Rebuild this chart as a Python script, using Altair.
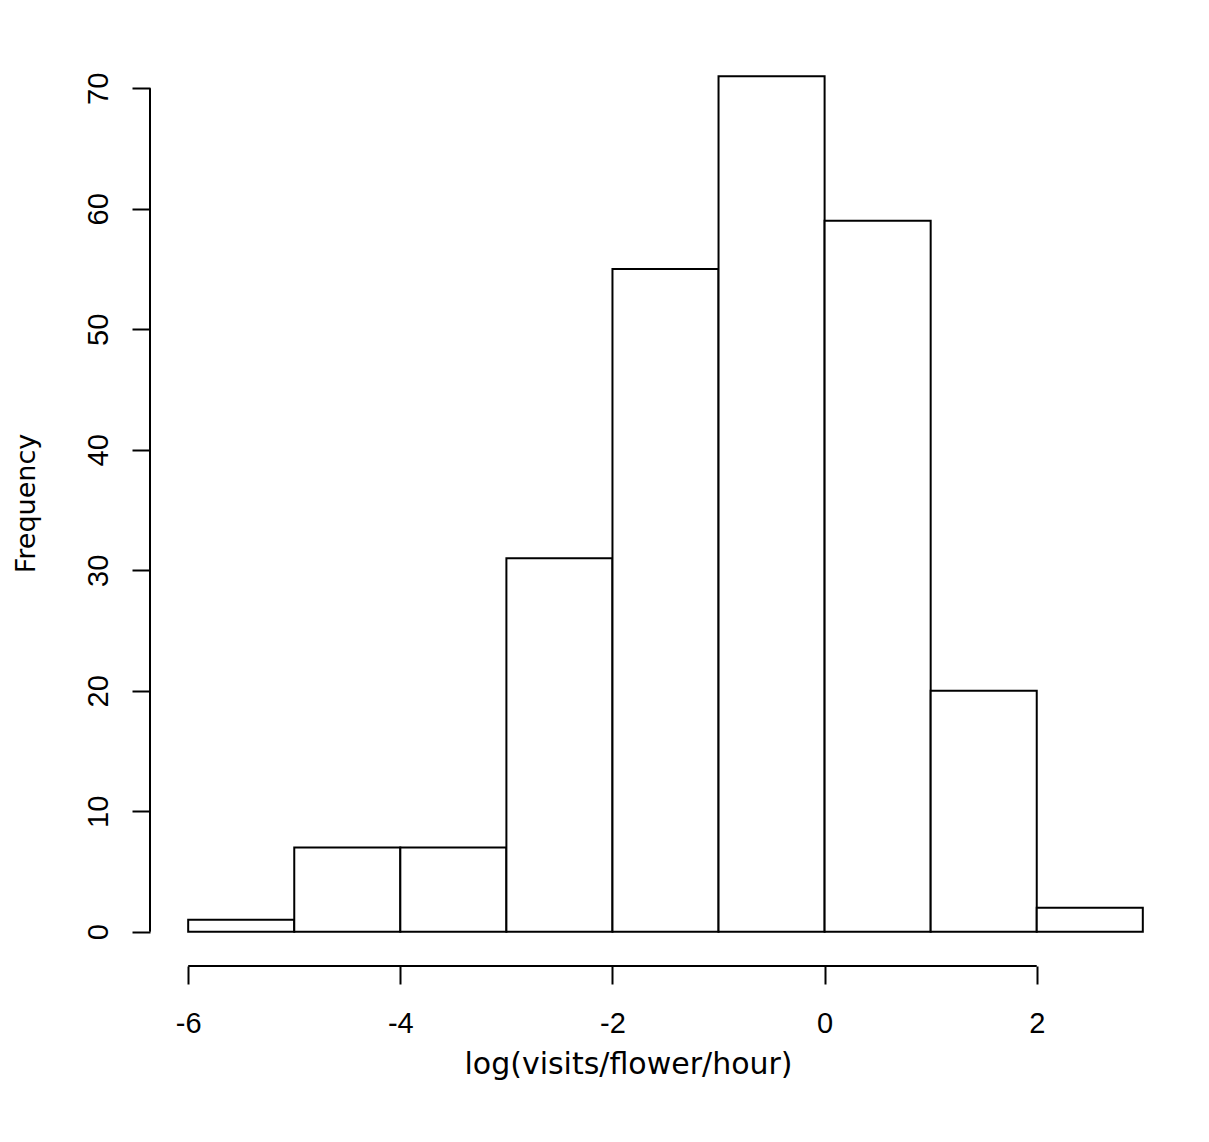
import altair as alt
import pandas as pd

# Histogram bins of log(visits/flower/hour), width 1
bin_start = [-6, -5, -4, -3, -2, -1, 0, 1, 2]
bin_end = [-5, -4, -3, -2, -1, 0, 1, 2, 3]
counts = [1, 7, 7, 31, 55, 71, 59, 20, 2]

x_ticks = [-6, -4, -2, 0, 2]
y_ticks = [0, 10, 20, 30, 40, 50, 60, 70]

bars = pd.DataFrame({"start": bin_start, "end": bin_end, "count": counts})

W, H = 1031, 924
# R-style 4% extension of the data range on both axes
x_dom = [min(bin_start) - 0.04 * (max(bin_end) - min(bin_start)),
         max(bin_end) + 0.04 * (max(bin_end) - min(bin_start))]
y_dom = [-0.04 * max(counts), max(counts) * 1.04]

x_scale = alt.Scale(domain=x_dom, nice=False, zero=False)
y_scale = alt.Scale(domain=y_dom, nice=False, zero=False)

LABEL_FONT = "Liberation Sans"
TITLE_FONT = "DejaVu Sans"
# plain integers with an ASCII hyphen for negatives
PLAIN = "'' + datum.value"

x_axis = alt.Axis(
    values=x_ticks, domain=False, grid=False, ticks=True,
    tickSize=18, tickWidth=2, tickColor="black",
    labelFont=LABEL_FONT, labelFontSize=29, labelColor="black",
    labelPadding=25, labelBaseline="top", labelExpr=PLAIN,
    title="log(visits/flower/hour)", titleFont=TITLE_FONT, titleFontSize=30,
    titleFontWeight="normal", titleColor="black",
    titleX=478, titleY=107, titleAlign="center", titleBaseline="alphabetic",
    titleAnchor="start",
)
y_axis = alt.Axis(
    values=y_ticks, domain=False, grid=False, ticks=True,
    tickSize=18, tickWidth=2, tickColor="black",
    labelFont=LABEL_FONT, labelFontSize=29, labelColor="black",
    labelAngle=-90, labelAlign="center", labelBaseline="alphabetic",
    labelPadding=25, labelExpr=PLAIN,
    title="Frequency", titleFont=TITLE_FONT, titleFontSize=27,
    titleFontWeight="normal", titleColor="black",
    titleAngle=-90, titleX=-116, titleY=461, titleAlign="center",
    titleBaseline="alphabetic", titleAnchor="start",
)

hist = alt.Chart(bars).mark_rect(
    fill="white", stroke="black", strokeWidth=2
).encode(
    x=alt.X("start:Q", scale=x_scale, axis=x_axis),
    x2="end:Q",
    y=alt.Y("count:Q", scale=y_scale, axis=y_axis),
    y2=alt.datum(0),
)

# Axis lines spanning only the tick range, as in base R graphics
x_line = alt.Chart(pd.DataFrame({"a": [min(x_ticks)], "b": [max(x_ticks)]})).mark_rule(
    color="black", strokeWidth=2
).encode(
    x=alt.X("a:Q", scale=x_scale), x2="b:Q", y=alt.value(H)
)
y_line = alt.Chart(pd.DataFrame({"a": [min(y_ticks)], "b": [max(y_ticks)]})).mark_rule(
    color="black", strokeWidth=2
).encode(
    y=alt.Y("a:Q", scale=y_scale), y2="b:Q", x=alt.value(0)
)

chart = alt.layer(hist, x_line, y_line).properties(
    width=W, height=H,
    autosize=alt.AutoSizeParams(type="none"),
    padding={"left": 150, "top": 42, "right": 28, "bottom": 176},
    background="white",
).configure_view(stroke=None)

chart.save("out.html", embed_options={"renderer": "svg", "actions": False})
